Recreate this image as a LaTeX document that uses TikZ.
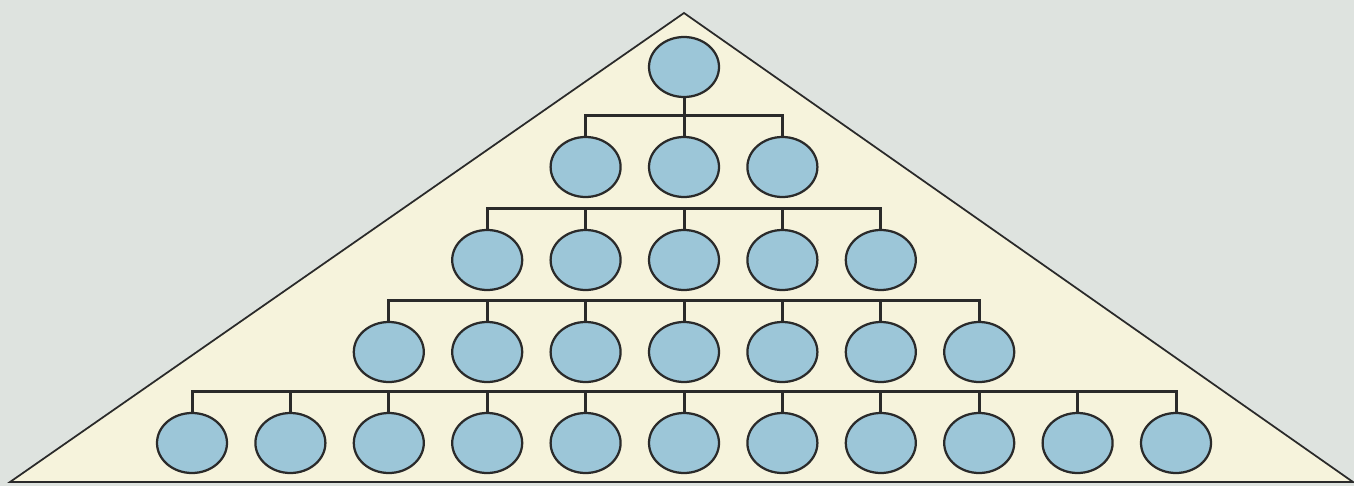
\documentclass[tikz,border=0pt]{standalone}
\usetikzlibrary{shapes.geometric, positioning}
\definecolor{bgcol}{HTML}{DEE3DF}
\definecolor{pyramidcol}{HTML}{F6F3DC}
\definecolor{membercol}{HTML}{9CC6D8}
\definecolor{edgecol}{HTML}{2A2A2A}
\tikzset{
    member/.style={ellipse, draw=edgecol, line width=0.045cm, fill=membercol, minimum width=1.4cm, minimum height=1.2cm, inner sep=0pt},
    pyramid/.style={draw=edgecol, line width=0.035cm, fill=pyramidcol, line join=miter},
    link/.style={draw=edgecol, line width=0.06cm}
}
\begin{document}
\begin{tikzpicture}
    % Background and pyramid
    \fill[bgcol] (0,0) rectangle (27.08,9.72);
    \useasboundingbox (0,0) rectangle (27.08,9.72);
    \draw[pyramid] (0.2,0.08) -- (13.68,9.46) -- (27.06,0.08) -- cycle;

    % Rows of members (row/count/y)
    \foreach \r/\n/\y in {1/1/8.38, 2/3/6.38, 3/5/4.52, 4/7/2.68, 5/11/0.86}{
        \foreach \c in {1,...,\n}{
            \node (n\r-\c) [member] at ({13.68+1.968*(\c-(\n+1)/2)},\y) {};
        }
    }

    % Connections
    \draw [link] (n1-1) -- (n2-2);
    \foreach \r/\n in {2/3, 3/5, 4/7, 5/11}{
        \draw [link] (n\r-1.north) -- ++(0,0.4) -| (n\r-\n.north);
        \foreach \c in {2,...,\n}{
            \draw [link] (n\r-\c.north) -- ++(0,0.4);
        }
    }
\end{tikzpicture}
\end{document}
